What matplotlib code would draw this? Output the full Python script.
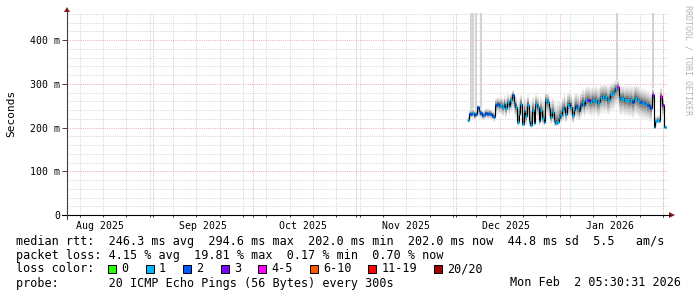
import numpy as np
import matplotlib
matplotlib.use("Agg")
import matplotlib.pyplot as plt
import matplotlib.dates as mdates
from matplotlib.lines import Line2D
from matplotlib.patches import Rectangle, Polygon
from matplotlib.ticker import FixedLocator
from datetime import datetime, timedelta

W, H = 697, 297
MONO = "DejaVu Sans Mono"

# samples every 12 h, starting 2025-12-04 12:00, values in ms
start = datetime(2025, 12, 4, 12, 0)
step_h = 12

median_ms = [
    217, 230, 232, 233, 228, 230, 246, 238, 233, 228, 229, 233, 232, 234, 231, 227, 224,
    251, 254, 250, 252, 246, 255, 244, 258, 250, 262, 275, 256, 247, 212, 232, 254, 208, 238,
    226, 252, 214, 206, 240, 210, 254, 247, 214, 240, 222, 212, 262, 258, 245, 225, 235, 214,
    210, 212, 222,
    228, 240, 246, 232, 251, 256, 247, 228, 240, 250, 244, 237, 252, 258, 251, 262, 263, 262,
    258, 262, 260, 264, 256, 259, 268, 272, 268, 271, 263, 266, 276, 279, 284, 290, 293, 270,
    266, 268, 262, 264, 263, 260, 262, 258, 266, 268, 263, 260, 258, 256, 257, 254, 251, 250, 245,
    274, 202, 214, 217, 216, 272, 252, 201, 202,
]
smoke_hi = [
    226, 240, 243, 244, 240, 242, 252, 247, 245, 240, 240, 244, 243, 244, 242, 238, 236,
    268, 270, 268, 272, 268, 274, 270, 276, 272, 280, 285, 276, 272, 262, 268, 274, 262, 270,
    266, 274, 262, 258, 270, 262, 276, 272, 264, 270, 264, 262, 282, 280, 272, 264, 268, 258,
    256, 258, 264,
    262, 270, 276, 268, 280, 284, 278, 266, 274, 280, 276, 270, 282, 288, 284, 292, 294, 292,
    290, 294, 292, 296, 290, 292, 298, 300, 298, 300, 294, 296, 302, 304, 306, 308, 310, 298,
    294, 296, 292, 294, 294, 292, 294, 292, 296, 298, 294, 292, 290, 288, 288, 286, 284, 282, 280,
    290, 214, 226, 228, 228, 290, 270, 206, 206,
]
smoke_lo = [
    210, 218, 220, 220, 216, 218, 222, 222, 220, 216, 217, 220, 219, 220, 218, 215, 212,
    228, 232, 230, 230, 226, 232, 224, 234, 228, 236, 240, 230, 222, 204, 210, 226, 202, 212,
    206, 222, 204, 200, 212, 204, 226, 220, 204, 212, 206, 204, 228, 226, 218, 208, 212, 204,
    202, 204, 208,
    210, 214, 220, 212, 222, 226, 222, 210, 216, 222, 218, 214, 222, 228, 224, 230, 230, 228,
    226, 228, 226, 230, 224, 226, 232, 234, 232, 234, 228, 230, 236, 240, 244, 248, 250, 232,
    228, 230, 226, 228, 226, 224, 226, 222, 228, 230, 226, 224, 222, 220, 220, 218, 216, 214, 212,
    236, 198, 206, 208, 208, 240, 220, 198, 198,
]
loss = [
    1, 2, 2, 1, 2, 2, 2, 1, 2, 2, 1, 2, 2, 1, 2, 2, 1,
    2, 2, 1, 1, 1, 1, 1, 1, 1, 1, 2, 1, 1, 1, 1, 1, 1, 1,
    1, 1, 1, 1, 1, 1, 1, 1, 1, 1, 1, 1, 1, 1, 1, 1, 1, 1,
    1, 1, 1,
    1, 1, 1, 1, 1, 1, 1, 1, 1, 2, 1, 1, 2, 1, 1, 1, 3, 3,
    1, 1, 1, 1, 1, 1, 1, 1, 1, 1, 1, 1, 1, 1, 1, 1, 4, 1,
    1, 1, 1, 1, 1, 1, 1, 2, 1, 1, 1, 1, 2, 1, 2, 1, 2, 2, 2,
    3, 1, 1, 1, 1, 4, 3, 1, 1,
]

# single pings far off the scale (light smoke reaching the top)
spike_times = [datetime(2025, 12, 5, 8), datetime(2025, 12, 6, 2), datetime(2025, 12, 7, 0),
               datetime(2025, 12, 8, 8), datetime(2026, 1, 18, 7), datetime(2026, 1, 28, 23)]
spike_bottom = [226, 228, 232, 228, 296, 278]
spike_top = [480, 480, 480, 480, 480, 480]

loss_legend = ["0", "1", "2", "3", "4-5", "6-10", "11-19", "20/20"]
loss_colors = ["#26ff00", "#00b8ff", "#0059ff", "#7e00ff", "#ff00ff", "#ff5500", "#ff0000", "#a10000"]
loss_bins = [0, 1, 2, 3, 5, 10, 19, 20]

x_start = datetime(2025, 8, 6, 5, 30)
x_end = datetime(2026, 2, 2, 5, 30)


def fx(x):
    return x / W


def fy(y):
    return 1 - y / H


def lcol(n):
    for b, c in zip(loss_bins, loss_colors):
        if n <= b:
            return c
    return loss_colors[-1]


fig = plt.figure(figsize=(W / 100, H / 100), dpi=100)
fig.patch.set_facecolor("white")
ax = fig.add_axes([fx(67), fy(215), 600 / W, 202 / H])
ax.set_facecolor("white")
for s in ax.spines.values():
    s.set_visible(False)

ax.set_xlim(x_start, x_end)
ax.set_ylim(0, 462)

# dotted grid
weeks = []
d = datetime(2025, 8, 10)
while d < x_end:
    weeks.append(d)
    d += timedelta(days=7)
months = [datetime(2025, m, 1) for m in range(9, 13)] + [datetime(2026, 1, 1), datetime(2026, 2, 1)]
gkw = dict(lw=0.72, ls=(0, (1, 1.2)))
for w in weeks:
    ax.axvline(w, color="#d6d6d6", zorder=0, **gkw)
for m in months:
    ax.axvline(m, color="#eab0b0", zorder=0.5, **gkw)
for v in range(20, 462, 20):
    if v % 100:
        ax.axhline(v, color="#d6d6d6", zorder=0, **gkw)
for v in range(100, 462, 100):
    ax.axhline(v, color="#eab0b0", zorder=0.5, **gkw)

# data
t = np.array([mdates.date2num(start + timedelta(hours=step_h * i)) for i in range(len(median_ms))])
med = np.array(median_ms, float)
hi = np.array(smoke_hi, float)
lo = np.array(smoke_lo, float)
half = step_h / 48.0

ax.vlines([mdates.date2num(s) for s in spike_times], spike_bottom, spike_top,
          color="#d4d4d4", lw=1.5, zorder=1)

grays = ["#f0f0f0", "#e2e2e2", "#d2d2d2", "#bebebe", "#a6a6a6", "#888888", "#666666"]
n = len(grays)
for k, g in enumerate(grays):
    f = k / n
    ax.fill_between(t, lo + (med - lo) * f, hi - (hi - med) * f, step="mid",
                    color=g, lw=0, zorder=2)

ax.plot(t, med, drawstyle="steps-mid", color="black", lw=0.8, zorder=3)
ax.hlines(med, t - half, t + half, colors=[lcol(v) for v in loss], lw=2.0, zorder=4)

# ticks
ax.yaxis.set_major_locator(FixedLocator([0, 100, 200, 300, 400]))
ax.set_yticklabels(["0", "100 m", "200 m", "300 m", "400 m"])
ax.tick_params(axis="y", which="major", length=3.5, width=0.72, pad=1.5,
               labelsize=7.1, color="#404040")

lab_pos = [datetime(2025, m, 1) + timedelta(days=15) for m in range(8, 13)] + [datetime(2026, 1, 16)]
lab_txt = ["Aug 2025", "Sep 2025", "Oct 2025", "Nov 2025", "Dec 2025", "Jan 2026"]
ax.set_xticks([mdates.date2num(p) for p in lab_pos])
ax.set_xticklabels(lab_txt)
ax.xaxis.set_minor_locator(FixedLocator([mdates.date2num(p) for p in weeks + months]))
ax.tick_params(axis="x", which="major", length=0, pad=4.5, labelsize=7.1)
ax.tick_params(axis="x", which="minor", length=1.5, width=0.72, color="#404040")
for lb in ax.get_xticklabels() + ax.get_yticklabels():
    lb.set_fontfamily(MONO)

# axes lines and arrows
fig.add_artist(Line2D([fx(62), fx(670)], [fy(215), fy(215)], color="black", lw=0.8))
fig.add_artist(Line2D([fx(67), fx(67)], [fy(219), fy(12)], color="#404040", lw=0.8))
fig.add_artist(Polygon([[fx(64), fy(12)], [fx(70), fy(12)], [fx(67), fy(7)]],
                       closed=True, color="#8b1a1a", lw=0))
fig.add_artist(Polygon([[fx(669), fy(212)], [fx(669), fy(218)], [fx(675), fy(215)]],
                       closed=True, color="#8b1a1a", lw=0))

fig.text(fx(11), fy(113), "Seconds", rotation=90, ha="center", va="center",
         family=MONO, size=8)
fig.text(fx(688), fy(60), "RRDTOOL / TOBI OETIKER", rotation=270, ha="center",
         va="center", family=MONO, size=6, color="#b4b4b4")

fs = 8.45
fig.text(fx(16), fy(241), "median rtt:  246.3 ms avg  294.6 ms max  202.0 ms min  "
         "202.0 ms now  44.8 ms sd  5.5   am/s", family=MONO, size=fs, va="center")
fig.text(fx(16), fy(255), "packet loss: 4.15 % avg  19.81 % max  0.17 % min  0.70 % now",
         family=MONO, size=fs, va="center")
fig.text(fx(16), fy(269), "loss color:", family=MONO, size=fs, va="center")
fig.text(fx(16), fy(283), "probe:       20 ICMP Echo Pings (56 Bytes) every 300s",
         family=MONO, size=fs, va="center")
fig.text(fx(681), fy(283), "Mon Feb  2 05:30:31 2026", family=MONO, size=fs,
         va="center", ha="right")

bx = 108
for lab, c in zip(loss_legend, loss_colors):
    fig.add_artist(Rectangle((fx(bx), fy(273)), 8 / W, 8 / H, facecolor=c,
                             edgecolor="black", lw=0.72))
    fig.text(fx(bx + 13.5), fy(269), lab, family=MONO, size=fs, va="center")
    bx += 30.5 + 7 * len(lab)

fig.savefig("out.png", dpi=100)
